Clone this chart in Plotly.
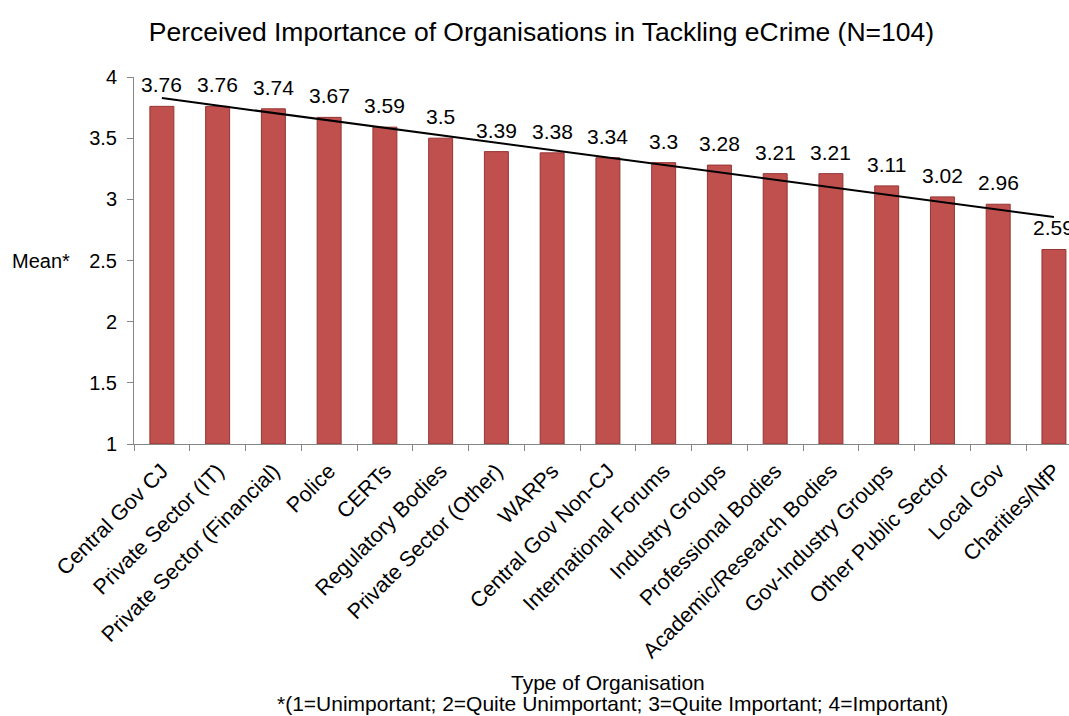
import numpy as np
import plotly.graph_objects as go

# Organisation types and their mean importance scores
organisations = [
    "Central Gov CJ", "Private Sector (IT)", "Private Sector (Financial)", "Police",
    "CERTs", "Regulatory Bodies", "Private Sector (Other)", "WARPs",
    "Central Gov Non-CJ", "International Forums", "Industry Groups",
    "Professional Bodies", "Academic/Research Bodies", "Gov-Industry Groups",
    "Other Public Sector", "Local Gov", "Charities/NfP",
]
mean_scores = [3.76, 3.76, 3.74, 3.67, 3.59, 3.5, 3.39, 3.38, 3.34, 3.3,
               3.28, 3.21, 3.21, 3.11, 3.02, 2.96, 2.59]
y_ticks = [1, 1.5, 2, 2.5, 3, 3.5, 4]

FONT = "Liberation Sans, Arial, sans-serif"
AXIS_GREY = "#868686"

# Linear trend across the ranked organisations
idx = np.arange(len(mean_scores))
slope, intercept = np.polyfit(idx, mean_scores, 1)
trend = slope * idx + intercept

fig = go.Figure()
fig.add_trace(go.Bar(
    x=organisations, y=[v - 1 for v in mean_scores], base=1,
    width=0.43,
    marker=dict(color="#C0504D", line=dict(color="#943634", width=1)),
    hoverinfo="skip", showlegend=False,
))
fig.add_trace(go.Scatter(
    x=[organisations[0], organisations[-1]], y=[trend[0], trend[-1]],
    mode="lines", line=dict(color="black", width=2),
    hoverinfo="skip", showlegend=False,
))

# Value labels above each bar
for org, v in zip(organisations, mean_scores):
    fig.add_annotation(
        x=org, y=v, text=f"{v:g}", showarrow=False,
        yanchor="bottom", yshift=8,
        font=dict(family=FONT, size=21, color="black"),
    )

# Axis titles and footnote
fig.add_annotation(
    xref="paper", yref="y", x=-0.066, y=2.5, text="Mean*",
    xanchor="right", yanchor="middle", showarrow=False,
    font=dict(family=FONT, size=20, color="black"),
)
fig.add_annotation(
    xref="paper", yref="paper", x=0.507, y=-0.649, text="Type of Organisation",
    xanchor="center", yanchor="middle", showarrow=False,
    font=dict(family=FONT, size=21, color="black"),
)
fig.add_annotation(
    xref="paper", yref="paper", x=0.512, y=-0.708,
    text="*(1=Unimportant; 2=Quite Unimportant; 3=Quite Important; 4=Important)",
    xanchor="center", yanchor="middle", showarrow=False,
    font=dict(family=FONT, size=21, color="black"),
)

fig.update_layout(
    width=1069, height=716,
    margin=dict(l=134, r=0, t=77, b=271.5),
    paper_bgcolor="white", plot_bgcolor="white",
    title=dict(
        text="Perceived Importance of Organisations in Tackling eCrime (N=104)",
        xref="container", yref="container", x=0.5065, y=0.955,
        xanchor="center", yanchor="middle",
        font=dict(family=FONT, size=26.5, color="black"),
    ),
    xaxis=dict(
        type="category", range=[-0.5, 16.27],
        showline=True, linecolor=AXIS_GREY, linewidth=1,
        ticks="outside", tickson="boundaries", ticklen=6, tickcolor=AXIS_GREY,
        ticklabelstandoff=5,
        tickangle=-45, showgrid=False, zeroline=False,
        tickfont=dict(family=FONT, size=21.5, color="black"),
    ),
    yaxis=dict(
        range=[1, 4], tickvals=y_ticks, ticktext=[f"{t:g}" for t in y_ticks],
        showline=True, linecolor=AXIS_GREY, linewidth=1,
        ticks="outside", ticklen=6, tickcolor=AXIS_GREY,
        ticklabelstandoff=6,
        showgrid=False, zeroline=False,
        tickfont=dict(family=FONT, size=20, color="black"),
    ),
)

fig.write_html("out.html")
